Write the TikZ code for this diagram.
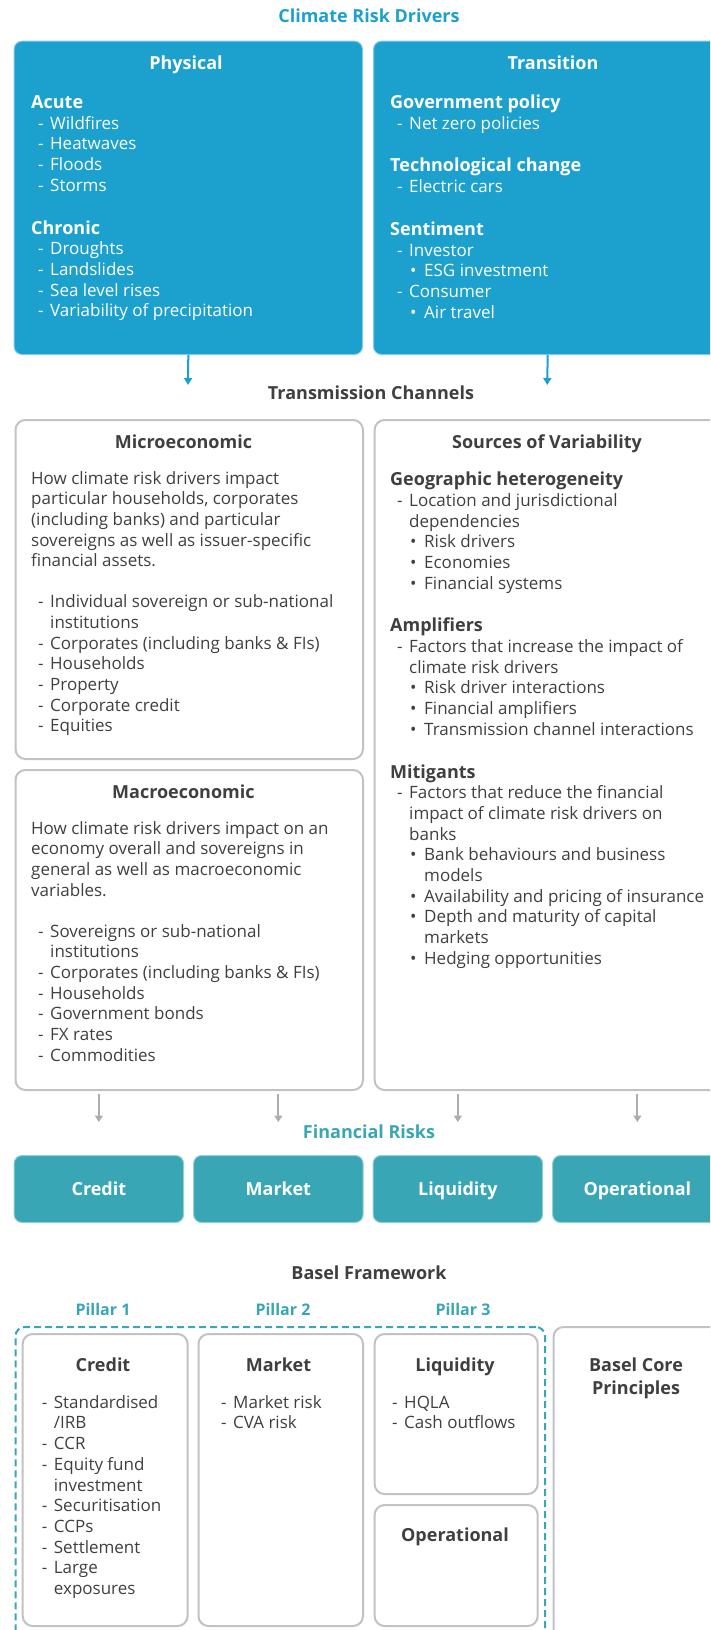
\documentclass[tikz,border=0pt]{standalone}
\usepackage{fontspec}
\setmainfont{Open Sans}
\usetikzlibrary{arrows.meta,calc}

\definecolor{crdblue}{HTML}{1CA1CE}
\definecolor{frteal}{HTML}{38A6B5}
\definecolor{boxgray}{HTML}{C2C2C2}
\definecolor{txtdark}{HTML}{3F3F3F}
\definecolor{arrgray}{HTML}{ADADAD}

% type sizes (1pt = 1px of the final picture)
\newcommand\bodyfont{\fontsize{17}{20.7}\selectfont}
\newcommand\headfont{\fontsize{18}{20.7}\selectfont\bfseries}
\newcommand\pillarfont{\fontsize{16}{20}\selectfont\bfseries}

% list lines: group heading, dash item, dash continuation, bullet item, bullet continuation
\newcommand\grouphead[1]{{\headfont #1}}
\newcommand\dashitem[1]{\hspace*{7pt}\makebox[12pt][l]{-}#1}
\newcommand\dashcont[1]{\hspace*{19pt}#1}
\newcommand\bulitem[1]{\hspace*{20pt}\makebox[14pt][l]{\textbullet}#1}
\newcommand\bulcont[1]{\hspace*{34pt}#1}

\begin{document}
\begin{tikzpicture}[x=1pt,y=-1pt,
  drivebox/.style={fill=crdblue, draw=crdblue!55!white, line width=1pt, rounded corners=8pt, anchor=north west, inner sep=0pt},
  riskbox/.style={fill=frteal, draw=frteal!55!white, line width=1pt, rounded corners=8pt, anchor=north west,
    minimum width=169.5pt, minimum height=67pt, text=white, font=\headfont, text height=16pt, text depth=4pt, inner sep=0pt},
  greybox/.style={draw=boxgray, line width=2pt, rounded corners=10pt, anchor=north west, inner sep=0pt},
  pillarframe/.style={draw=frteal, line width=2pt, dash pattern=on 7pt off 4pt, rounded corners=9pt, anchor=north west, inner sep=0pt},
  txtblock/.style={anchor=north west, inner sep=0pt, align=left, font=\bodyfont, text=txtdark},
  titletext/.style={anchor=base, inner sep=0pt, font=\headfont, text=txtdark},
  bluearrow/.style={draw=crdblue, line width=2pt, -{Triangle[width=8pt,length=7pt]}},
  greyarrow/.style={draw=arrgray, line width=2.2pt, -{Triangle[width=8pt,length=6.5pt]}},
]
\useasboundingbox (0,0) rectangle (710,1630);
\clip (0,0) rectangle (710,1630);

% ---------------- Climate risk drivers ----------------
\node[titletext, text=crdblue] (crdtitle) at (369,22.4) {Climate Risk Drivers};

\node[drivebox, minimum width=348.4pt, minimum height=313.3pt] (phys) at (13.6,40.7) {};
\node[drivebox, minimum width=348.4pt, minimum height=313.3pt] (trans) at (373,40.7) {};

\node[titletext, text=white] (physttl) at (186,69.4) {Physical};
\node[titletext, text=white] (transttl) at (553,69.4) {Transition};

\node[txtblock, text=white] (physlist) at (31,93.9) {\strut\grouphead{Acute}\\
  \dashitem{Wildfires}\\
  \dashitem{Heatwaves}\\
  \dashitem{Floods}\\
  \dashitem{Storms}\\[22pt]
  \grouphead{Chronic}\\
  \dashitem{Droughts}\\
  \dashitem{Landslides}\\
  \dashitem{Sea level rises}\\
  \dashitem{Variability of precipitation}};

\node[txtblock, text=white] (translist) at (390,93.9) {\strut\grouphead{Government policy}\\
  \dashitem{Net zero policies}\\[22pt]
  \grouphead{Technological change}\\
  \dashitem{Electric cars}\\[22pt]
  \grouphead{Sentiment}\\
  \dashitem{Investor}\\
  \bulitem{ESG investment}\\
  \dashitem{Consumer}\\
  \bulitem{Air travel}};

\coordinate (physend) at (188,385);
\coordinate (transend) at (547.2,385);
\draw[bluearrow] (phys.south) -- (physend);
\draw[bluearrow] (trans.south) -- (transend);

% ---------------- Transmission channels ----------------
\node[titletext] (tctitle) at (371,399.4) {Transmission Channels};

\node[greybox, minimum width=347.5pt, minimum height=339pt] (micro) at (14.5,419) {};
\node[greybox, minimum width=347.5pt, minimum height=320pt] (macro) at (14.5,769) {};
\node[greybox, minimum width=347.4pt, minimum height=670pt] (sources) at (373.6,419) {};

\node[titletext] (microttl) at (183.5,448.4) {Microeconomic};
\node[titletext] (macrottl) at (183.4,798.4) {Macroeconomic};
\node[titletext] (sourcesttl) at (547,448.4) {Sources of Variability};

\node[txtblock] (microtext) at (31,469.5) {\strut How climate risk drivers impact\\
  particular households, corporates\\
  (including banks) and particular\\
  sovereigns as well as issuer-specific\\
  financial assets.\\[20pt]
  \dashitem{Individual sovereign or sub-national}\\
  \dashcont{institutions}\\
  \dashitem{Corporates (including banks \& FIs)}\\
  \dashitem{Households}\\
  \dashitem{Property}\\
  \dashitem{Corporate credit}\\
  \dashitem{Equities}};

\node[txtblock] (macrotext) at (31,819.5) {\strut How climate risk drivers impact on an\\
  economy overall and sovereigns in\\
  general as well as macroeconomic\\
  variables.\\[20pt]
  \dashitem{Sovereigns or sub-national}\\
  \dashcont{institutions}\\
  \dashitem{Corporates (including banks \& FIs)}\\
  \dashitem{Households}\\
  \dashitem{Government bonds}\\
  \dashitem{FX rates}\\
  \dashitem{Commodities}};

\node[txtblock] (sourcestext) at (390,470.9) {\strut\grouphead{Geographic heterogeneity}\\
  \dashitem{Location and jurisdictional}\\
  \dashcont{dependencies}\\
  \bulitem{Risk drivers}\\
  \bulitem{Economies}\\
  \bulitem{Financial systems}\\[22pt]
  \grouphead{Amplifiers}\\
  \dashitem{Factors that increase the impact of}\\
  \dashcont{climate risk drivers}\\
  \bulitem{Risk driver interactions}\\
  \bulitem{Financial amplifiers}\\
  \bulitem{Transmission channel interactions}\\[22pt]
  \grouphead{Mitigants}\\
  \dashitem{Factors that reduce the financial}\\
  \dashcont{impact of climate risk drivers on}\\
  \dashcont{banks}\\
  \bulitem{Bank behaviours and business}\\
  \bulcont{models}\\
  \bulitem{Availability and pricing of insurance}\\
  \bulitem{Depth and maturity of capital}\\
  \bulcont{markets}\\
  \bulitem{Hedging opportunities}};

% ---------------- Financial risks ----------------
\node[titletext, text=frteal] (frtitle) at (369,1138.4) {Financial Risks};

\node[riskbox] (rk1) at (13.6,1155) {Credit};
\node[riskbox] (rk2) at (193.1,1155) {Market};
\node[riskbox] (rk3) at (372.6,1155) {Liquidity};
\node[riskbox] (rk4) at (552.1,1155) {Operational};

\coordinate (rk1in) at ($(rk1.north)+(0,-33)$);
\coordinate (rk2in) at ($(rk2.north)+(0,-33)$);
\coordinate (rk3in) at ($(rk3.north)+(0,-33)$);
\coordinate (rk4in) at ($(rk4.north)+(0,-33)$);
\draw[greyarrow] ($(macro.south -| rk1.north)+(0,3)$) -- (rk1in);
\draw[greyarrow] ($(macro.south -| rk2.north)+(0,3)$) -- (rk2in);
\draw[greyarrow] ($(sources.south -| rk3.north)+(0,3)$) -- (rk3in);
\draw[greyarrow] ($(sources.south -| rk4.north)+(0,3)$) -- (rk4in);

% ---------------- Basel framework ----------------
\node[titletext] (bftitle) at (369,1279.4) {Basel Framework};

\node[titletext, font=\pillarfont, text=frteal] (p1) at (103,1315.7) {Pillar 1};
\node[titletext, font=\pillarfont, text=frteal] (p2) at (283,1315.7) {Pillar 2};
\node[titletext, font=\pillarfont, text=frteal] (p3) at (463,1315.7) {Pillar 3};

\node[pillarframe, minimum width=529.5pt, minimum height=330pt] (pframe) at (14.5,1326) {};
\node[greybox, minimum width=164.9pt, minimum height=292pt] (bcredit) at (21.7,1333) {};
\node[greybox, minimum width=164.5pt, minimum height=292pt] (bmarket) at (197.5,1333) {};
\node[greybox, minimum width=163.1pt, minimum height=160pt] (bliq) at (373.6,1333) {};
\node[greybox, minimum width=163.1pt, minimum height=121pt] (bops) at (373.6,1504) {};
\node[greybox, minimum width=175pt, minimum height=330pt] (bcore) at (552.5,1326) {};

\node[titletext] (bcreditttl) at (103,1371.4) {Credit};
\node[titletext] (bmarketttl) at (278.5,1371.4) {Market};
\node[titletext] (bliqttl) at (455,1371.4) {Liquidity};
\node[titletext] (bopsttl) at (455,1541.4) {Operational};
\node[anchor=north, inner sep=0pt, align=center, text=txtdark,
      font=\fontsize{18}{23}\selectfont\bfseries] (bcorettl) at (636,1355.3) {\strut Basel Core\\Principles};

\node[txtblock] (bcreditlist) at (34.7,1393.5) {\strut\dashitem{Standardised}\\
  \dashcont{/IRB}\\
  \dashitem{CCR}\\
  \dashitem{Equity fund}\\
  \dashcont{investment}\\
  \dashitem{Securitisation}\\
  \dashitem{CCPs}\\
  \dashitem{Settlement}\\
  \dashitem{Large}\\
  \dashcont{exposures}};

\node[txtblock] (bmarketlist) at (214,1393.5) {\strut\dashitem{Market risk}\\
  \dashitem{CVA risk}};

\node[txtblock] (bliqlist) at (385,1393.5) {\strut\dashitem{HQLA}\\
  \dashitem{Cash outflows}};
\end{tikzpicture}
\end{document}
